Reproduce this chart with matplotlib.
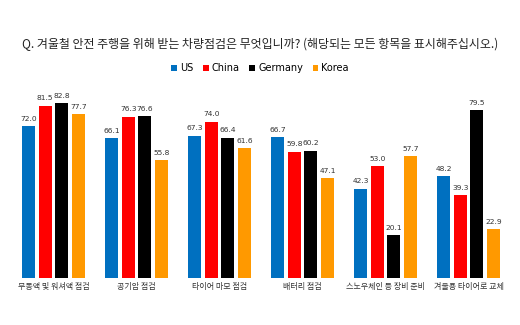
import numpy as np
import matplotlib
matplotlib.use("Agg")
import matplotlib.pyplot as plt

plt.rcParams['font.family'] = ['Noto Sans CJK KR', 'DejaVu Sans']

categories = ["부동액 및 워셔액 점검", "공기압 점검", "타이어 마모 점검",
              "배터리 점검", "스노우체인 등 장비 준비", "겨울용 타이어로 교체"]
series = ["US", "China", "Germany", "Korea"]
us = [72.0, 66.1, 67.3, 66.7, 42.3, 48.2]
china = [81.5, 76.3, 74.0, 59.8, 53.0, 39.3]
germany = [82.8, 76.6, 66.4, 60.2, 20.1, 79.5]
korea = [77.7, 55.8, 61.6, 47.1, 57.7, 22.9]
colors = ["#0070C0", "#FF0000", "#000000", "#FF9900"]

fig = plt.figure(figsize=(5.2, 3.25), dpi=100)
ax = fig.add_axes([0.023, 0.145, 0.958, 0.65])

x = np.arange(len(categories))
w = 0.157
step = 0.2
for k, (name, vals) in enumerate(zip(series, [us, china, germany, korea])):
    pos = x + (k - 1.5) * step
    ax.bar(pos, vals, w, color=colors[k], label=name)
    for p, v in zip(pos, vals):
        ax.text(p, v + 2, "%.1f" % v, ha="center", va="bottom",
                fontsize=5.4, color="#333333", family="DejaVu Sans")

ax.set_xlim(-0.5, 5.5)
ax.set_ylim(0, 100)
ax.set_xticks(x)
ax.set_xticklabels(categories, fontsize=5.8, color="#333333")
ax.tick_params(axis="x", length=0, pad=3)
ax.set_yticks([])
for s in ax.spines.values():
    s.set_visible(False)

fig.text(0.5, 0.862, "Q. 겨울철 안전 주행을 위해 받는 차량점검은 무엇입니까? (해당되는 모든 항목을 표시해주십시오.)",
         ha="center", va="center", fontsize=8.6, color="#222222")

fig.legend(loc="center", bbox_to_anchor=(0.5, 0.79), ncol=4, frameon=False,
           handlelength=0.6, handleheight=0.6, handletextpad=0.3,
           columnspacing=1.0, prop={"family": "DejaVu Sans", "size": 7})

fig.savefig("out.png", dpi=100)
